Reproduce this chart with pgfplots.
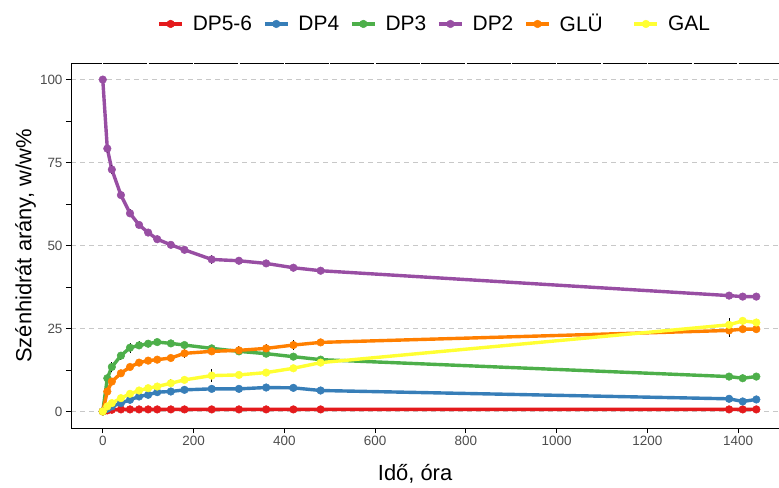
\documentclass[border=0pt]{standalone}
\usepackage{fontspec}
\setmainfont{Liberation Sans}
\usepackage{pgfplots}
\pgfplotsset{compat=1.18}
\usepackage{pgfplotstable}
\definecolor{cRed}{HTML}{E41A1C}
\definecolor{cBlue}{HTML}{377EB8}
\definecolor{cGreen}{HTML}{4DAF4A}
\definecolor{cPurple}{HTML}{984EA3}
\definecolor{cOrange}{HTML}{FF7F00}
\definecolor{cYellow}{HTML}{FFFF33}
\definecolor{gridgray}{HTML}{C8C8C8}
\definecolor{tickgray}{HTML}{4D4D4D}

\pgfplotstableread{
t v e
0 0 0
10 0.3 0.1
20 0.5 0.1
40 0.6 0.1
60 0.6 0.1
80 0.6 0.1
100 0.6 0.1
120 0.6 0.1
150 0.6 0.1
180 0.6 0.1
240 0.6 0.2
300 0.6 0.1
360 0.6 0.1
420 0.6 0.2
480 0.6 0.1
1380 0.6 0.3
1410 0.6 0.1
1440 0.6 0.1
}\dpvi

\pgfplotstableread{
t v e
0 0 0
10 0.8 0.2
20 1.5 0.3
40 2.5 0.3
60 3.5 0.4
80 4.5 0.4
100 5.0 0.4
120 5.8 0.5
150 6.0 0.8
180 6.5 0.6
240 6.8 0.4
300 6.8 0.3
360 7.2 0.4
420 7.1 0.8
480 6.3 0.6
1380 3.8 0.5
1410 3.0 0.3
1440 3.6 0.4
}\dpiv

\pgfplotstableread{
t v e
0 0 0
10 10.0 1.2
20 13.4 1.5
40 16.8 1.2
60 19.2 1.5
80 19.9 1.2
100 20.4 1.0
120 20.9 0.6
150 20.5 0.5
180 20.0 0.4
240 19.0 0.5
300 18.1 0.4
360 17.4 0.4
420 16.5 0.8
480 15.6 0.5
1380 10.5 0.8
1410 10.0 0.8
1440 10.5 0.8
}\dpiii

\pgfplotstableread{
t v e
0 100 0
10 79.2 1.2
20 72.9 1.5
40 65.2 1.0
60 59.7 1.2
80 56.2 1.0
100 53.9 0.8
120 51.9 0.6
150 50.2 0.6
180 48.7 0.8
240 45.8 1.3
300 45.4 0.4
360 44.6 0.4
420 43.3 0.8
480 42.4 0.6
1380 34.9 0.6
1410 34.6 1.0
1440 34.6 1.0
}\dpii

\pgfplotstableread{
t v e
0 0 0
10 6.0 0.8
20 9.0 0.8
40 11.5 0.6
60 13.4 0.8
80 14.7 1.0
100 15.3 0.8
120 15.6 0.8
150 16.1 0.6
180 17.5 1.3
240 18.1 1.0
300 18.4 1.3
360 19.0 1.3
420 20.0 1.5
480 20.8 0.8
1380 24.4 2.0
1410 24.8 1.0
1440 24.8 1.0
}\glu

\pgfplotstableread{
t v e
0 0 0
10 1.5 0.3
20 2.5 0.3
40 4.0 0.3
60 5.3 0.4
80 6.3 0.3
100 7.0 0.8
120 7.5 0.8
150 8.5 1.2
180 9.5 0.8
240 10.8 2.0
300 11.0 0.3
360 11.7 0.3
420 13.0 0.8
480 14.7 1.0
1380 26.1 2.2
1410 27.3 1.2
1440 26.8 1.0
}\gal

\begin{document}
\begin{tikzpicture}
\path[use as bounding box] (0,0) rectangle (779bp,-488bp);
\begin{axis}[
  at={(71bp,-428bp)}, anchor=south west,
  scale only axis, width=708bp, height=365bp,
  xmin=-70, xmax=1490, ymin=-5, ymax=105,
  axis x line*=bottom, axis y line*=left,
  axis line style={line width=0.8bp, black},
  xtick={0,200,...,1400}, ytick={0,25,50,75,100},
  minor ytick={12.5,37.5,62.5,87.5},
  tick align=outside, major tick length=5bp, minor tick length=5bp,
  every tick/.style={line width=0.8bp, black},
  ymajorgrids,
  major grid style={dash pattern=on 5bp off 4bp, color=gridgray, line width=0.9bp},
  ticklabel style={font=\fontsize{13.5}{13.5}\selectfont, text=tickgray},
  /pgf/number format/assume math mode=true,
  /pgf/number format/1000 sep={},
  xlabel={Idő, óra}, ylabel={Szénhidrát arány, w/w\%},
  label style={font=\fontsize{22}{22}\selectfont},
  xlabel style={at={(axis description cs:0.486,0)}, anchor=center, yshift=-46bp},
  ylabel style={at={(axis description cs:-0.064,0.4986)}, anchor=center},
  legend columns=6,
  legend style={at={(axis description cs:0.5137,1.107)}, anchor=center, draw=none, fill=none,
    font=\fontsize{21}{21}\selectfont,
    /tikz/every odd column/.append style={column sep=7bp},
    /tikz/every even column/.append style={column sep=9bp}},
  legend image code/.code={\draw[mark repeat=2, mark phase=2] plot coordinates {(0bp,0bp)(11.5bp,0bp)(23bp,0bp)};},
  myplot/.style={line width=3.4bp, mark=*, mark size=3.8bp, mark options={solid, line width=0.5bp},
    error bars/.cd, y dir=both, y explicit, error mark=none, error bar style={black, line width=0.9bp}},
]
\addplot[color=cRed, myplot] table[x=t, y=v, y error=e] {\dpvi};
\addlegendentry{DP5-6}
\addplot[color=cBlue, myplot] table[x=t, y=v, y error=e] {\dpiv};
\addlegendentry{DP4}
\addplot[color=cGreen, myplot] table[x=t, y=v, y error=e] {\dpiii};
\addlegendentry{DP3}
\addplot[color=cPurple, myplot] table[x=t, y=v, y error=e] {\dpii};
\addlegendentry{DP2}
\addplot[color=cOrange, myplot] table[x=t, y=v, y error=e] {\glu};
\addlegendentry{GLÜ\kern19bp\null}
\addplot[color=cYellow, myplot] table[x=t, y=v, y error=e] {\gal};
\addlegendentry{GAL}
\pgfplotsforeachungrouped \a/\b in {-70/-1.6, 1.6/98.4, 101.6/198.4, 201.6/298.4, 301.6/398.4, 401.6/498.4, 501.6/598.4, 601.6/698.4, 701.6/798.4, 801.6/898.4, 901.6/998.4, 1001.6/1098.4, 1101.6/1198.4, 1201.6/1298.4, 1301.6/1398.4, 1401.6/1490}{
  \edef\temp{\noexpand\draw[black, line width=0.9bp] (axis cs:\a,105) -- (axis cs:\b,105);}\temp
}
\end{axis}
\end{tikzpicture}
\end{document}
